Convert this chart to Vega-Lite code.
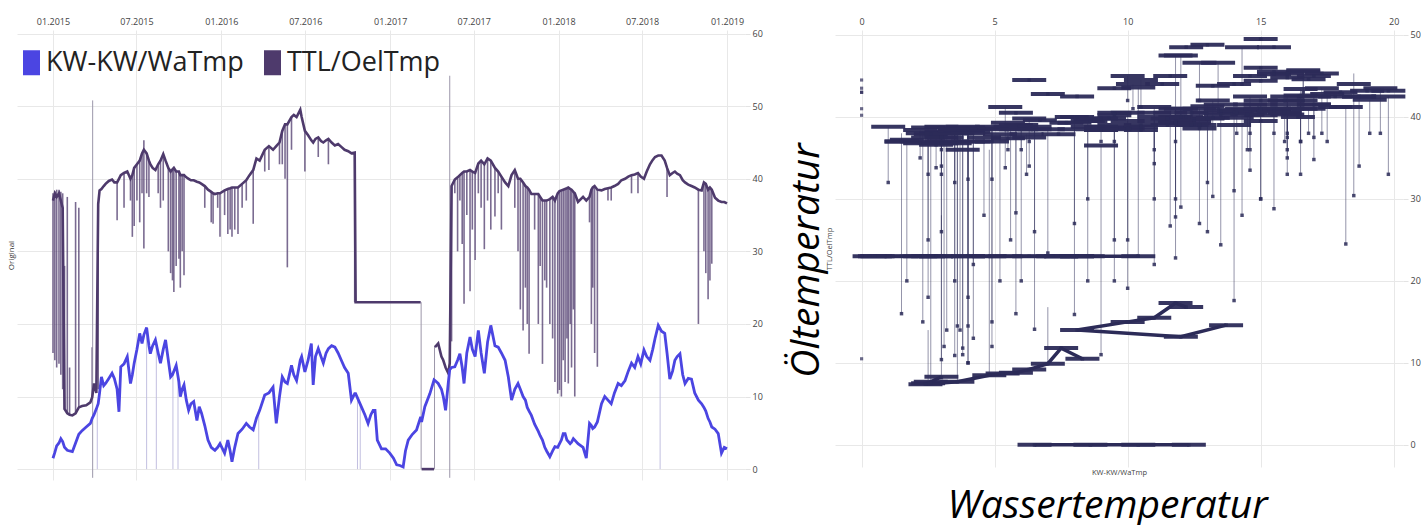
{
"$schema": "https://vega.github.io/schema/vega-lite/v6.json",
"background": "white",
"padding": {"left": 7, "top": 17, "right": 0, "bottom": 0},
"spacing": 24,
"config": {
  "view": {"stroke": null},
  "font": "Open Sans",
  "axis": {"labelFont": "Open Sans", "titleFont": "Open Sans", "gridColor": "#e8e8e8", "labelColor": "#555", "domain": false, "ticks": false, "minExtent": 0}
},
"resolve": {"scale": {"color": "independent"}, "legend": {"color": "independent"}},
"datasets": {
"main": [
{"d":"2015-01-01","wa":1.5,"oel":37,"lo":16,"hi":38,"seg":1},
{"d":"2015-01-05","wa":2.3,"oel":38,"lo":15,"hi":38.3,"seg":1},
{"d":"2015-01-09","wa":3.2,"oel":37.5,"lo":14,"hi":38.5,"seg":1},
{"d":"2015-01-14","wa":3.6,"oel":38,"lo":14.5,"hi":38.5,"seg":1},
{"d":"2015-01-18","wa":4.2,"oel":37,"lo":13,"hi":38.2,"seg":1},
{"d":"2015-01-22","wa":3.8,"oel":36,"lo":11,"hi":38,"seg":1},
{"d":"2015-01-26","wa":3.0,"oel":8.3,"lo":8.2,"hi":28,"seg":1,"run":"a"},
{"d":"2015-02-01","wa":2.6,"oel":7.7,"lo":7.6,"hi":37.5,"seg":1,"run":"a"},
{"d":"2015-02-06","wa":2.5,"oel":7.5,"lo":7.5,"hi":14,"seg":1,"run":"a"},
{"d":"2015-02-12","wa":2.4,"oel":7.4,"lo":7.4,"hi":7.4,"seg":1,"run":"a"},
{"d":"2015-02-19","wa":3.6,"oel":7.7,"lo":7.7,"hi":36.8,"seg":1,"run":"a"},
{"d":"2015-02-26","wa":4.8,"oel":8.5,"lo":8.5,"hi":36,"seg":1,"run":"a"},
{"d":"2015-03-05","wa":5.3,"oel":8.7,"lo":8.7,"hi":8.7,"seg":1,"run":"a"},
{"d":"2015-03-14","wa":5.8,"oel":8.8,"lo":8.8,"hi":8.8,"seg":1,"run":"a"},
{"d":"2015-03-23","wa":6.3,"oel":9.2,"lo":9.2,"hi":9.2,"seg":1,"run":"a"},
{"d":"2015-03-27","wa":7.0,"oel":9.9,"lo":9.9,"hi":16.8,"seg":1,"run":"a"},
{"d":"2015-03-31","wa":7.5,"oel":11.8,"lo":11.8,"hi":11.8,"seg":1,"run":"a"},
{"d":"2015-04-05","wa":8.3,"oel":10.5,"lo":10.5,"hi":10.5,"seg":1,"run":"a"},
{"d":"2015-04-09","wa":9.0,"oel":36.5,"lo":11,"hi":36.5,"seg":1},
{"d":"2015-04-12","wa":10.5,"oel":38.4,"lo":38.4,"hi":38.4,"seg":1},
{"d":"2015-04-16","wa":12.7,"oel":38.6,"lo":38.6,"hi":38.6,"seg":1},
{"d":"2015-04-21","wa":11.5,"oel":39.0,"lo":39.0,"hi":39.0,"seg":1},
{"d":"2015-04-25","wa":11.8,"oel":39.3,"lo":39.3,"hi":39.3,"seg":1},
{"d":"2015-05-02","wa":12.5,"oel":39.7,"lo":39.7,"hi":39.7,"seg":1},
{"d":"2015-05-09","wa":13.2,"oel":39.9,"lo":39.9,"hi":39.9,"seg":1},
{"d":"2015-05-14","wa":12.5,"oel":39.5,"lo":39.5,"hi":39.5,"seg":1},
{"d":"2015-05-20","wa":11.0,"oel":39.5,"lo":34.3,"hi":39.5,"seg":1},
{"d":"2015-05-24","wa":7.9,"oel":40.0,"lo":40.0,"hi":40.0,"seg":1},
{"d":"2015-05-28","wa":14.1,"oel":40.5,"lo":40.5,"hi":40.5,"seg":1},
{"d":"2015-06-04","wa":14.5,"oel":40.8,"lo":36,"hi":40.8,"seg":1},
{"d":"2015-06-11","wa":15.5,"oel":41.0,"lo":41.0,"hi":41.0,"seg":1},
{"d":"2015-06-18","wa":11.8,"oel":40.0,"lo":37,"hi":40.0,"seg":1},
{"d":"2015-06-22","wa":13.0,"oel":40.5,"lo":32,"hi":40.5,"seg":1},
{"d":"2015-06-26","wa":14.6,"oel":41.5,"lo":33.5,"hi":41.5,"seg":1},
{"d":"2015-07-02","wa":16.5,"oel":42.0,"lo":37,"hi":42.0,"seg":1},
{"d":"2015-07-08","wa":18.7,"oel":42.5,"lo":34,"hi":42.5,"seg":1},
{"d":"2015-07-13","wa":17.3,"oel":43.5,"lo":38,"hi":43.5,"seg":1},
{"d":"2015-07-17","wa":18.5,"oel":44.0,"lo":30.4,"hi":45.3,"seg":1},
{"d":"2015-07-23","wa":19.5,"oel":43.5,"lo":38,"hi":43.5,"seg":1},
{"d":"2015-07-28","wa":17.0,"oel":42.5,"lo":37.5,"hi":42.5,"seg":1},
{"d":"2015-07-31","wa":15.9,"oel":42.0,"lo":42.0,"hi":42.0,"seg":1},
{"d":"2015-08-05","wa":17.0,"oel":41.5,"lo":41.5,"hi":41.5,"seg":1},
{"d":"2015-08-11","wa":17.8,"oel":41.2,"lo":41.2,"hi":41.2,"seg":1},
{"d":"2015-08-17","wa":16.0,"oel":42.0,"lo":38,"hi":42.0,"seg":1},
{"d":"2015-08-22","wa":14.6,"oel":42.5,"lo":36,"hi":42.5,"seg":1},
{"d":"2015-08-28","wa":16.5,"oel":43.4,"lo":37,"hi":43.4,"seg":1},
{"d":"2015-09-02","wa":17.8,"oel":42.5,"lo":42.5,"hi":42.5,"seg":1},
{"d":"2015-09-08","wa":15.0,"oel":41.5,"lo":30,"hi":41.5,"seg":1},
{"d":"2015-09-13","wa":12.7,"oel":41.0,"lo":27,"hi":41.0,"seg":1},
{"d":"2015-09-17","wa":13.0,"oel":41.3,"lo":26,"hi":41.3,"seg":1},
{"d":"2015-09-20","wa":13.5,"oel":41.5,"lo":24.4,"hi":41.5,"seg":1},
{"d":"2015-09-25","wa":14.3,"oel":41.0,"lo":28,"hi":41.0,"seg":1},
{"d":"2015-10-01","wa":12.0,"oel":41.0,"lo":29,"hi":41.0,"seg":1},
{"d":"2015-10-04","wa":10.0,"oel":40.5,"lo":25,"hi":40.5,"seg":1},
{"d":"2015-10-08","wa":11.0,"oel":40.5,"lo":30,"hi":40.5,"seg":1},
{"d":"2015-10-12","wa":11.6,"oel":40.5,"lo":26.7,"hi":40.5,"seg":1},
{"d":"2015-10-17","wa":9.5,"oel":40.2,"lo":40.2,"hi":40.2,"seg":1},
{"d":"2015-10-22","wa":8.1,"oel":40.0,"lo":40.0,"hi":40.0,"seg":1},
{"d":"2015-10-27","wa":9.0,"oel":39.8,"lo":39.8,"hi":39.8,"seg":1},
{"d":"2015-11-02","wa":9.3,"oel":39.8,"lo":39.8,"hi":39.8,"seg":1},
{"d":"2015-11-09","wa":6.7,"oel":39.6,"lo":39.6,"hi":39.6,"seg":1},
{"d":"2015-11-14","wa":8.6,"oel":39.5,"lo":39.5,"hi":39.5,"seg":1},
{"d":"2015-11-19","wa":7.7,"oel":39.3,"lo":39.3,"hi":39.3,"seg":1},
{"d":"2015-11-26","wa":6.0,"oel":39.0,"lo":36,"hi":39.0,"seg":1},
{"d":"2015-12-03","wa":4.0,"oel":38.5,"lo":38.5,"hi":38.5,"seg":1},
{"d":"2015-12-10","wa":3.0,"oel":38.2,"lo":34,"hi":38.2,"seg":1},
{"d":"2015-12-14","wa":2.8,"oel":38.0,"lo":33.8,"hi":38.0,"seg":1},
{"d":"2015-12-18","wa":2.6,"oel":37.9,"lo":37.9,"hi":37.9,"seg":1},
{"d":"2015-12-24","wa":3.0,"oel":38.0,"lo":36,"hi":38.0,"seg":1},
{"d":"2015-12-29","wa":3.5,"oel":38.0,"lo":32,"hi":38.0,"seg":1},
{"d":"2016-01-08","wa":2.2,"oel":38.4,"lo":35,"hi":38.4,"seg":1},
{"d":"2016-01-15","wa":4.0,"oel":38.6,"lo":32.4,"hi":38.6,"seg":1},
{"d":"2016-01-20","wa":2.5,"oel":38.7,"lo":33,"hi":38.7,"seg":1},
{"d":"2016-01-24","wa":1.0,"oel":38.8,"lo":32,"hi":38.8,"seg":1},
{"d":"2016-01-30","wa":3.0,"oel":38.8,"lo":33,"hi":38.8,"seg":1},
{"d":"2016-02-06","wa":4.9,"oel":38.8,"lo":32.4,"hi":38.8,"seg":1},
{"d":"2016-02-15","wa":5.5,"oel":39.3,"lo":36,"hi":39.3,"seg":1},
{"d":"2016-02-24","wa":6.3,"oel":39.8,"lo":37,"hi":39.8,"seg":1},
{"d":"2016-03-02","wa":5.8,"oel":40.5,"lo":40.5,"hi":40.5,"seg":1},
{"d":"2016-03-10","wa":5.4,"oel":41.2,"lo":33.8,"hi":41.2,"seg":1},
{"d":"2016-03-17","wa":7.0,"oel":42.8,"lo":42.8,"hi":42.8,"seg":1},
{"d":"2016-03-24","wa":8.1,"oel":42.5,"lo":42.5,"hi":42.5,"seg":1},
{"d":"2016-04-04","wa":10.2,"oel":44.0,"lo":41,"hi":44.0,"seg":1},
{"d":"2016-04-13","wa":10.5,"oel":44.5,"lo":41.2,"hi":44.5,"seg":1},
{"d":"2016-04-22","wa":11.3,"oel":44.0,"lo":44.0,"hi":44.0,"seg":1},
{"d":"2016-04-29","wa":6.3,"oel":44.5,"lo":44.5,"hi":44.5,"seg":1},
{"d":"2016-05-06","wa":10.0,"oel":45.0,"lo":42,"hi":45.0,"seg":1},
{"d":"2016-05-12","wa":12.7,"oel":46.6,"lo":42,"hi":46.6,"seg":1},
{"d":"2016-05-18","wa":12.0,"oel":47.5,"lo":40,"hi":47.5,"seg":1},
{"d":"2016-05-23","wa":11.8,"oel":47.5,"lo":27.8,"hi":47.5,"seg":1},
{"d":"2016-06-01","wa":14.3,"oel":48.5,"lo":44,"hi":48.5,"seg":1},
{"d":"2016-06-06","wa":13.0,"oel":48.8,"lo":48.8,"hi":48.8,"seg":1},
{"d":"2016-06-12","wa":12.2,"oel":48.5,"lo":48.5,"hi":48.5,"seg":1},
{"d":"2016-06-20","wa":15.0,"oel":49.5,"lo":49.5,"hi":49.5,"seg":1},
{"d":"2016-06-23","wa":15.5,"oel":48.5,"lo":48.5,"hi":48.5,"seg":1},
{"d":"2016-06-30","wa":13.4,"oel":46.6,"lo":41,"hi":46.6,"seg":1},
{"d":"2016-07-07","wa":15.0,"oel":46.0,"lo":46.0,"hi":46.0,"seg":1},
{"d":"2016-07-14","wa":17.3,"oel":45.3,"lo":45.3,"hi":45.3,"seg":1},
{"d":"2016-07-18","wa":11.6,"oel":45.0,"lo":45.0,"hi":45.0,"seg":1},
{"d":"2016-07-23","wa":15.5,"oel":45.5,"lo":45.5,"hi":45.5,"seg":1},
{"d":"2016-07-29","wa":16.6,"oel":45.7,"lo":43,"hi":45.7,"seg":1},
{"d":"2016-08-04","wa":15.5,"oel":45.2,"lo":45.2,"hi":45.2,"seg":1},
{"d":"2016-08-09","wa":14.6,"oel":45.0,"lo":45.0,"hi":45.0,"seg":1},
{"d":"2016-08-15","wa":16.0,"oel":45.3,"lo":45.3,"hi":45.3,"seg":1},
{"d":"2016-08-20","wa":16.6,"oel":45.5,"lo":42,"hi":45.5,"seg":1},
{"d":"2016-08-27","wa":17.0,"oel":45.0,"lo":45.0,"hi":45.0,"seg":1},
{"d":"2016-09-03","wa":16.8,"oel":44.6,"lo":44.6,"hi":44.6,"seg":1},
{"d":"2016-09-10","wa":16.0,"oel":44.8,"lo":44.8,"hi":44.8,"seg":1},
{"d":"2016-09-17","wa":15.0,"oel":44.4,"lo":44.4,"hi":44.4,"seg":1},
{"d":"2016-09-24","wa":14.0,"oel":44.0,"lo":44.0,"hi":44.0,"seg":1},
{"d":"2016-10-02","wa":13.2,"oel":43.8,"lo":43.8,"hi":43.8,"seg":1},
{"d":"2016-10-09","wa":9.5,"oel":43.5,"lo":43.5,"hi":43.5,"seg":1},
{"d":"2016-10-16","wa":10.4,"oel":43.6,"lo":23.0,"hi":43.6,"seg":1},
{"d":"2016-10-18","wa":10.4,"oel":23.0,"lo":23.0,"hi":23.0,"seg":1,"run":"b"},
{"d":"2016-10-31","wa":8.5,"oel":23,"lo":23,"hi":23,"seg":1,"run":"b"},
{"d":"2016-11-07","wa":7.5,"oel":23,"lo":23,"hi":23,"seg":1,"run":"b"},
{"d":"2016-11-14","wa":6.3,"oel":23,"lo":23,"hi":23,"seg":1,"run":"b"},
{"d":"2016-11-20","wa":7.5,"oel":23,"lo":23,"hi":23,"seg":1,"run":"b"},
{"d":"2016-11-25","wa":8.1,"oel":23,"lo":23,"hi":23,"seg":1,"run":"b"},
{"d":"2016-11-29","wa":8.1,"oel":23,"lo":23,"hi":23,"seg":1,"run":"b"},
{"d":"2016-12-04","wa":4.0,"oel":23,"lo":23,"hi":23,"seg":1,"run":"b"},
{"d":"2016-12-13","wa":2.8,"oel":23,"lo":23,"hi":23,"seg":1,"run":"b"},
{"d":"2016-12-22","wa":2.8,"oel":23,"lo":23,"hi":23,"seg":1,"run":"b"},
{"d":"2016-12-31","wa":2.2,"oel":23,"lo":23,"hi":23,"seg":1,"run":"b"},
{"d":"2017-01-08","wa":1.5,"oel":23,"lo":23,"hi":23,"seg":1,"run":"b"},
{"d":"2017-01-15","wa":0.6,"oel":23,"lo":23,"hi":23,"seg":1,"run":"b"},
{"d":"2017-01-22","wa":0.5,"oel":23,"lo":23,"hi":23,"seg":1,"run":"b"},
{"d":"2017-01-29","wa":0.3,"oel":23,"lo":23,"hi":23,"seg":1,"run":"b"},
{"d":"2017-02-03","wa":2.5,"oel":23,"lo":23,"hi":23,"seg":1,"run":"b"},
{"d":"2017-02-09","wa":4.0,"oel":23,"lo":23,"hi":23,"seg":1,"run":"b"},
{"d":"2017-02-18","wa":4.8,"oel":23,"lo":23,"hi":23,"seg":1,"run":"b"},
{"d":"2017-02-27","wa":5.4,"oel":23,"lo":23,"hi":23,"seg":1,"run":"b"},
{"d":"2017-03-08","wa":7.2,"oel":23,"lo":23,"hi":23,"seg":1,"run":"b"},
{"d":"2017-03-10","wa":6.5,"oel":0,"lo":0,"hi":0,"seg":2,"run":"c"},
{"d":"2017-03-17","wa":8.6,"oel":0,"lo":0,"hi":0,"seg":2,"run":"c"},
{"d":"2017-03-28","wa":10.4,"oel":0,"lo":0,"hi":0,"seg":2,"run":"c"},
{"d":"2017-04-06","wa":12.3,"oel":0,"lo":0,"hi":0,"seg":2,"run":"c"},
{"d":"2017-04-08","wa":12.2,"oel":16.8,"lo":16.8,"hi":16.8,"seg":3,"run":"d"},
{"d":"2017-04-15","wa":11.8,"oel":17.3,"lo":17.3,"hi":17.3,"seg":3,"run":"d"},
{"d":"2017-04-22","wa":11.0,"oel":15.5,"lo":15.5,"hi":15.5,"seg":3,"run":"d"},
{"d":"2017-04-26","wa":10.0,"oel":15.0,"lo":15.0,"hi":15.0,"seg":3,"run":"d"},
{"d":"2017-05-01","wa":8.1,"oel":14.0,"lo":14.0,"hi":14.0,"seg":3,"run":"d"},
{"d":"2017-05-07","wa":12.0,"oel":13.2,"lo":13.2,"hi":13.2,"seg":3,"run":"d"},
{"d":"2017-05-10","wa":13.7,"oel":14.6,"lo":14.6,"hi":14.6,"seg":3,"run":"d"},
{"d":"2017-05-14","wa":14.0,"oel":39.0,"lo":17.6,"hi":39.0,"seg":3},
{"d":"2017-05-21","wa":14.1,"oel":39.9,"lo":38,"hi":39.9,"seg":3},
{"d":"2017-05-27","wa":15.0,"oel":40.2,"lo":30,"hi":40.2,"seg":3},
{"d":"2017-06-01","wa":15.9,"oel":40.5,"lo":37,"hi":40.5,"seg":3},
{"d":"2017-06-06","wa":14.0,"oel":40.8,"lo":31,"hi":40.8,"seg":3},
{"d":"2017-06-10","wa":11.8,"oel":41.0,"lo":22.8,"hi":41.0,"seg":3},
{"d":"2017-06-16","wa":16.0,"oel":41.0,"lo":35,"hi":41.0,"seg":3},
{"d":"2017-06-23","wa":18.2,"oel":41.2,"lo":24.5,"hi":41.2,"seg":3},
{"d":"2017-06-28","wa":16.5,"oel":41.0,"lo":33,"hi":41.0,"seg":3},
{"d":"2017-07-04","wa":15.5,"oel":40.8,"lo":28.8,"hi":40.8,"seg":3},
{"d":"2017-07-11","wa":19.1,"oel":42.1,"lo":38,"hi":42.1,"seg":3},
{"d":"2017-07-17","wa":16.0,"oel":42.5,"lo":36,"hi":42.5,"seg":3},
{"d":"2017-07-24","wa":13.2,"oel":42.0,"lo":30.3,"hi":42.0,"seg":3},
{"d":"2017-07-31","wa":17.5,"oel":42.8,"lo":37,"hi":42.8,"seg":3},
{"d":"2017-08-07","wa":19.8,"oel":42.5,"lo":33,"hi":42.5,"seg":3},
{"d":"2017-08-16","wa":17.0,"oel":41.5,"lo":34.8,"hi":41.5,"seg":3},
{"d":"2017-08-23","wa":16.8,"oel":41.0,"lo":38,"hi":41.0,"seg":3},
{"d":"2017-08-30","wa":16.0,"oel":40.3,"lo":33,"hi":40.3,"seg":3},
{"d":"2017-09-07","wa":15.0,"oel":39.5,"lo":39.5,"hi":39.5,"seg":3},
{"d":"2017-09-14","wa":12.7,"oel":39.0,"lo":39.0,"hi":39.0,"seg":3},
{"d":"2017-09-21","wa":9.5,"oel":40.5,"lo":40.5,"hi":40.5,"seg":3},
{"d":"2017-09-28","wa":11.0,"oel":41.2,"lo":36,"hi":41.2,"seg":3},
{"d":"2017-10-05","wa":11.8,"oel":40.0,"lo":30,"hi":40.0,"seg":3},
{"d":"2017-10-10","wa":11.0,"oel":40.0,"lo":22,"hi":40.0,"seg":3},
{"d":"2017-10-16","wa":10.0,"oel":39.5,"lo":19.1,"hi":39.5,"seg":3},
{"d":"2017-10-21","wa":9.5,"oel":39.0,"lo":25,"hi":39.0,"seg":3},
{"d":"2017-10-25","wa":8.5,"oel":38.8,"lo":20,"hi":38.8,"seg":3},
{"d":"2017-10-29","wa":8.0,"oel":38.5,"lo":15.9,"hi":38.5,"seg":3},
{"d":"2017-11-03","wa":7.4,"oel":37.9,"lo":37.9,"hi":37.9,"seg":3},
{"d":"2017-11-10","wa":6.2,"oel":37.9,"lo":33,"hi":37.9,"seg":3},
{"d":"2017-11-18","wa":5.2,"oel":37.9,"lo":20,"hi":37.9,"seg":3},
{"d":"2017-11-22","wa":4.6,"oel":37.5,"lo":28,"hi":37.5,"seg":3},
{"d":"2017-11-27","wa":4.0,"oel":37.0,"lo":14.5,"hi":37.0,"seg":3},
{"d":"2017-12-02","wa":3.0,"oel":37.0,"lo":26,"hi":37.0,"seg":3},
{"d":"2017-12-06","wa":2.5,"oel":37.0,"lo":25,"hi":37.0,"seg":3},
{"d":"2017-12-13","wa":1.7,"oel":37.2,"lo":20,"hi":37.2,"seg":3},
{"d":"2017-12-19","wa":2.5,"oel":37.5,"lo":18,"hi":37.5,"seg":3},
{"d":"2017-12-24","wa":3.1,"oel":37.0,"lo":12,"hi":37.0,"seg":3},
{"d":"2017-12-30","wa":3.0,"oel":38.0,"lo":10.4,"hi":38.0,"seg":3},
{"d":"2018-01-03","wa":3.5,"oel":38.3,"lo":10.9,"hi":38.3,"seg":3},
{"d":"2018-01-07","wa":4.0,"oel":38.4,"lo":10,"hi":38.4,"seg":3},
{"d":"2018-01-11","wa":4.9,"oel":38.5,"lo":15,"hi":38.5,"seg":3},
{"d":"2018-01-15","wa":4.9,"oel":38.6,"lo":12,"hi":38.6,"seg":3},
{"d":"2018-01-19","wa":4.0,"oel":38.7,"lo":18,"hi":38.7,"seg":3},
{"d":"2018-01-22","wa":3.8,"oel":38.8,"lo":11.8,"hi":38.8,"seg":3},
{"d":"2018-01-26","wa":3.5,"oel":38.6,"lo":20,"hi":38.6,"seg":3},
{"d":"2018-01-29","wa":3.7,"oel":38.5,"lo":14,"hi":38.5,"seg":3},
{"d":"2018-02-02","wa":4.2,"oel":38.2,"lo":22,"hi":38.2,"seg":3},
{"d":"2018-02-05","wa":4.0,"oel":38.0,"lo":10,"hi":38.0,"seg":3},
{"d":"2018-02-12","wa":3.5,"oel":36.8,"lo":36.8,"hi":36.8,"seg":3},
{"d":"2018-02-23","wa":3.0,"oel":37.5,"lo":37.5,"hi":37.5,"seg":3},
{"d":"2018-03-02","wa":1.5,"oel":37.0,"lo":37.0,"hi":37.0,"seg":3},
{"d":"2018-03-09","wa":6.3,"oel":37.5,"lo":34,"hi":37.5,"seg":3},
{"d":"2018-03-13","wa":6.0,"oel":38.5,"lo":20,"hi":38.5,"seg":3},
{"d":"2018-03-16","wa":5.6,"oel":38.8,"lo":25,"hi":38.8,"seg":3},
{"d":"2018-03-20","wa":5.8,"oel":39.0,"lo":16,"hi":39.0,"seg":3},
{"d":"2018-03-26","wa":6.5,"oel":38.5,"lo":14.1,"hi":38.5,"seg":3},
{"d":"2018-04-04","wa":9.0,"oel":38.4,"lo":38.4,"hi":38.4,"seg":3},
{"d":"2018-04-11","wa":10.0,"oel":38.6,"lo":38.6,"hi":38.6,"seg":3},
{"d":"2018-04-18","wa":9.5,"oel":38.7,"lo":37,"hi":38.7,"seg":3},
{"d":"2018-04-25","wa":9.0,"oel":38.8,"lo":37,"hi":38.8,"seg":3},
{"d":"2018-05-02","wa":10.5,"oel":39.0,"lo":39.0,"hi":39.0,"seg":3},
{"d":"2018-05-10","wa":11.8,"oel":39.3,"lo":39.3,"hi":39.3,"seg":3},
{"d":"2018-05-17","wa":11.5,"oel":39.8,"lo":39.8,"hi":39.8,"seg":3},
{"d":"2018-05-25","wa":12.2,"oel":40.0,"lo":40.0,"hi":40.0,"seg":3},
{"d":"2018-06-01","wa":13.5,"oel":40.3,"lo":40.3,"hi":40.3,"seg":3},
{"d":"2018-06-08","wa":14.6,"oel":40.5,"lo":38,"hi":40.5,"seg":3},
{"d":"2018-06-15","wa":14.0,"oel":40.6,"lo":40.6,"hi":40.6,"seg":3},
{"d":"2018-06-22","wa":15.5,"oel":40.8,"lo":38,"hi":40.8,"seg":3},
{"d":"2018-06-28","wa":14.5,"oel":40.3,"lo":40.3,"hi":40.3,"seg":3},
{"d":"2018-07-05","wa":16.4,"oel":40.0,"lo":40.0,"hi":40.0,"seg":3},
{"d":"2018-07-11","wa":15.5,"oel":41.0,"lo":41.0,"hi":41.0,"seg":3},
{"d":"2018-07-18","wa":15.0,"oel":42.0,"lo":42.0,"hi":42.0,"seg":3},
{"d":"2018-07-24","wa":16.5,"oel":42.6,"lo":42.6,"hi":42.6,"seg":3},
{"d":"2018-07-29","wa":18.0,"oel":43.0,"lo":43.0,"hi":43.0,"seg":3},
{"d":"2018-08-05","wa":19.8,"oel":43.2,"lo":43.2,"hi":43.2,"seg":3},
{"d":"2018-08-12","wa":19.0,"oel":43.2,"lo":43.2,"hi":43.2,"seg":3},
{"d":"2018-08-19","wa":18.7,"oel":42.5,"lo":42.5,"hi":42.5,"seg":3},
{"d":"2018-08-24","wa":16.0,"oel":41.5,"lo":37.5,"hi":41.5,"seg":3},
{"d":"2018-08-30","wa":12.4,"oel":40.5,"lo":40.5,"hi":40.5,"seg":3},
{"d":"2018-09-05","wa":13.5,"oel":40.8,"lo":40.8,"hi":40.8,"seg":3},
{"d":"2018-09-10","wa":15.0,"oel":41.0,"lo":41.0,"hi":41.0,"seg":3},
{"d":"2018-09-15","wa":15.5,"oel":40.7,"lo":40.7,"hi":40.7,"seg":3},
{"d":"2018-09-21","wa":15.9,"oel":40.5,"lo":40.5,"hi":40.5,"seg":3},
{"d":"2018-09-27","wa":13.0,"oel":39.8,"lo":39.8,"hi":39.8,"seg":3},
{"d":"2018-10-02","wa":11.8,"oel":39.5,"lo":39.5,"hi":39.5,"seg":3},
{"d":"2018-10-09","wa":12.5,"oel":39.2,"lo":39.2,"hi":39.2,"seg":3},
{"d":"2018-10-16","wa":12.4,"oel":39.0,"lo":39.0,"hi":39.0,"seg":3},
{"d":"2018-10-23","wa":10.5,"oel":38.8,"lo":38.8,"hi":38.8,"seg":3},
{"d":"2018-10-31","wa":9.5,"oel":38.5,"lo":20,"hi":38.5,"seg":3},
{"d":"2018-11-07","wa":9.0,"oel":38.4,"lo":38.4,"hi":38.4,"seg":3},
{"d":"2018-11-12","wa":8.5,"oel":39.5,"lo":30,"hi":39.5,"seg":3},
{"d":"2018-11-16","wa":8.0,"oel":39.3,"lo":27,"hi":39.3,"seg":3},
{"d":"2018-11-21","wa":7.0,"oel":38.5,"lo":23.4,"hi":38.5,"seg":3},
{"d":"2018-11-25","wa":6.5,"oel":38.8,"lo":26,"hi":38.8,"seg":3},
{"d":"2018-11-29","wa":5.8,"oel":38.5,"lo":28.3,"hi":38.5,"seg":3},
{"d":"2018-12-06","wa":5.5,"oel":37.4,"lo":37.4,"hi":37.4,"seg":3},
{"d":"2018-12-13","wa":4.9,"oel":37.0,"lo":37.0,"hi":37.0,"seg":3},
{"d":"2018-12-20","wa":2.2,"oel":36.8,"lo":36.8,"hi":36.8,"seg":3},
{"d":"2018-12-26","wa":3.0,"oel":36.8,"lo":36.8,"hi":36.8,"seg":3},
{"d":"2019-01-01","wa":2.8,"oel":36.6,"lo":36.6,"hi":36.6,"seg":3}
],
"drops": [
{"d":"2015-03-28","top":50.8,"bot":-1.2,"kind":"oel","oel":9.9},
{"d":"2015-04-07","top":8.5,"bot":0,"kind":"wa","oel":10.5},
{"d":"2015-07-23","top":19.5,"bot":0,"kind":"wa","oel":43.5},
{"d":"2015-08-13","top":17,"bot":0,"kind":"wa","oel":44.5},
{"d":"2015-09-18","top":13.5,"bot":0,"kind":"wa","oel":41},
{"d":"2015-09-29","top":13,"bot":0,"kind":"wa","oel":40.2},
{"d":"2016-03-22","top":8,"bot":0,"kind":"wa","oel":43},
{"d":"2016-10-22","top":10,"bot":0,"kind":"wa","oel":23},
{"d":"2016-10-28","top":9,"bot":0,"kind":"wa","oel":23},
{"d":"2017-03-09","top":23,"bot":0,"kind":"oel","oel":23},
{"d":"2017-04-07","top":17,"bot":0,"kind":"oel","oel":17},
{"d":"2017-05-10","top":54.2,"bot":-1.2,"kind":"oel","oel":14.6},
{"d":"2018-08-09","top":19.5,"bot":0,"kind":"wa","oel":43}
],
"legend": [{"s":"KW-KW/WaTmp"},{"s":"TTL/OelTmp"}]
},
"hconcat": [
{
  "width": 728,
  "height": 450,
  "resolve": {"axis": {"x": "independent", "y": "independent"}},
  "layer": [
    {
      "data": {"name": "legend"},
      "mark": {"type": "point", "filled": true, "opacity": 0, "shape": "M-0.68,-1V1H0.68V-1Z"},
      "encoding": {
        "color": {"field": "s", "type": "nominal",
          "scale": {"domain": ["KW-KW/WaTmp", "TTL/OelTmp"], "range": ["#4b45e2", "#4e3a6c"]},
          "legend": {"title": null, "orient": "none", "legendX": 1, "legendY": 19, "direction": "horizontal",
            "labelFontSize": 27, "labelFont": "Open Sans", "labelColor": "#222", "symbolSize": 625,
            "symbolOpacity": 1, "symbolStrokeWidth": 0, "labelOffset": 1, "columnPadding": 15, "padding": 0, "labelLimit": 400}}
      }
    },
    {
      "data": {"name": "main"},
      "mark": {"type": "rule", "strokeWidth": 1.6, "opacity": 0.75, "color": "#4e3a6c"},
      "encoding": {
        "x": {"field": "d", "type": "temporal",
          "scale": {"domain": [{"year": 2014, "month": 10, "date": 15}, {"year": 2019, "month": 2, "date": 9}]},
          "axis": {"orient": "top", "format": "%m.%Y", "tickCount": {"interval": "month", "step": 6}, "grid": true,
            "title": null, "labelFontSize": 9, "labelPadding": 4, "labelColor": "#444"}},
        "y": {"field": "lo", "type": "quantitative", "scale": {"domain": [-1.5, 60.5], "nice": false, "zero": false},
          "axis": {"orient": "left", "title": "Original", "labels": false, "grid": false, "titleFontSize": 8,
            "titlePadding": 2, "titleFontWeight": "normal", "titleColor": "#333"}},
        "y2": {"field": "hi"}
      }
    },
    {
      "data": {"name": "drops"},
      "mark": {"type": "rule", "strokeWidth": 1},
      "encoding": {
        "x": {"field": "d", "type": "temporal", "axis": null,
          "scale": {"domain": [{"year": 2014, "month": 10, "date": 15}, {"year": 2019, "month": 2, "date": 9}]}},
        "y": {"field": "top", "type": "quantitative", "axis": null, "scale": {"domain": [-1.5, 60.5], "nice": false, "zero": false}},
        "y2": {"field": "bot"},
        "stroke": {"field": "kind", "type": "nominal", "scale": {"domain": ["wa", "oel"], "range": ["#c2bfe0", "#9c97aa"]}, "legend": null}
      }
    },
    {
      "data": {"name": "main"},
      "mark": {"type": "line", "strokeWidth": 2.6, "color": "#4e3a6c"},
      "encoding": {
        "x": {"field": "d", "type": "temporal", "axis": null,
          "scale": {"domain": [{"year": 2014, "month": 10, "date": 15}, {"year": 2019, "month": 2, "date": 9}]}},
        "y": {"field": "oel", "type": "quantitative", "scale": {"domain": [-1.5, 60.5], "nice": false, "zero": false},
          "axis": {"orient": "right", "values": [0, 10, 20, 30, 40, 50, 60], "grid": true, "title": null, "labelFontSize": 9,
            "ticks": true, "tickSize": 5, "tickColor": "#e3e3e3", "labelPadding": 2, "labelColor": "#444"}},
        "detail": {"field": "seg", "type": "nominal"}
      }
    },
    {
      "data": {"name": "main"},
      "mark": {"type": "line", "strokeWidth": 2.8, "color": "#4b45e2"},
      "encoding": {
        "x": {"field": "d", "type": "temporal", "axis": null,
          "scale": {"domain": [{"year": 2014, "month": 10, "date": 15}, {"year": 2019, "month": 2, "date": 9}]}},
        "y": {"field": "wa", "type": "quantitative", "axis": null, "scale": {"domain": [-1.5, 60.5], "nice": false, "zero": false}}
      }
    }
  ]
},
{
  "width": 568,
  "height": 437,
  "resolve": {"axis": {"x": "independent", "y": "independent"}},
  "layer": [
    {
      "data": {"name": "main"},
      "mark": {"type": "rule", "strokeWidth": 1, "opacity": 0.5, "color": "#2c2b58"},
      "encoding": {
        "x": {"field": "wa", "type": "quantitative", "scale": {"domain": [-1, 20.35], "nice": false, "zero": false},
          "axis": {"orient": "top", "values": [0, 5, 10, 15, 20], "grid": true, "title": null, "labelFontSize": 9, "labelPadding": 4, "labelColor": "#444"}},
        "y": {"field": "lo", "type": "quantitative", "scale": {"domain": [-2.7, 50.6], "nice": false, "zero": false},
          "axis": {"orient": "right", "values": [0, 10, 20, 30, 40, 50], "grid": true, "title": null, "labelFontSize": 9,
            "ticks": true, "tickSize": 5, "tickColor": "#e3e3e3", "labelPadding": 2, "labelColor": "#444"}},
        "y2": {"field": "hi"}
      }
    },
    {
      "data": {"name": "main"},
      "transform": [{"filter": "datum.run"}],
      "mark": {"type": "line", "strokeWidth": 3.5, "color": "#2c2b58"},
      "encoding": {
        "x": {"field": "wa", "type": "quantitative", "axis": null, "scale": {"domain": [-1, 20.35], "nice": false, "zero": false}},
        "y": {"field": "oel", "type": "quantitative", "axis": null, "scale": {"domain": [-2.7, 50.6], "nice": false, "zero": false}},
        "order": {"field": "d", "type": "temporal"},
        "detail": {"field": "run", "type": "nominal"}
      }
    },
    {
      "data": {"name": "main"},
      "mark": {"type": "tick", "orient": "horizontal", "size": 34, "thickness": 4, "opacity": 0.95, "color": "#2c2b58"},
      "encoding": {
        "x": {"field": "wa", "type": "quantitative", "axis": null, "scale": {"domain": [-1, 20.35], "nice": false, "zero": false}},
        "y": {"field": "oel", "type": "quantitative", "axis": null, "scale": {"domain": [-2.7, 50.6], "nice": false, "zero": false}}
      }
    },
    {
      "data": {"name": "main"},
      "mark": {"type": "square", "size": 12, "opacity": 0.85, "color": "#2c2b58"},
      "encoding": {
        "x": {"field": "wa", "type": "quantitative", "axis": null, "scale": {"domain": [-1, 20.35], "nice": false, "zero": false}},
        "y": {"field": "lo", "type": "quantitative", "axis": null, "scale": {"domain": [-2.7, 50.6], "nice": false, "zero": false}}
      }
    },
    {
      "data": {"name": "drops"},
      "transform": [{"filter": "datum.kind == 'wa'"}],
      "mark": {"type": "square", "size": 10, "color": "#2c2b58"},
      "encoding": {
        "x": {"datum": 0, "type": "quantitative", "axis": null, "scale": {"domain": [-1, 20.35], "nice": false, "zero": false}},
        "y": {"field": "oel", "type": "quantitative", "axis": null, "scale": {"domain": [-2.7, 50.6], "nice": false, "zero": false}}
      }
    },
    {
      "data": {"name": "main"},
      "mark": {"type": "point", "opacity": 0},
      "encoding": {
        "x": {"field": "wa", "type": "quantitative", "scale": {"domain": [-1, 20.35], "nice": false, "zero": false},
          "axis": {"orient": "bottom", "title": "KW-KW/WaTmp", "labels": false, "grid": false, "titleFontSize": 7.5,
            "titlePadding": 1, "titleFontWeight": "normal", "titleColor": "#444"}},
        "y": {"field": "oel", "type": "quantitative", "scale": {"domain": [-2.7, 50.6], "nice": false, "zero": false},
          "axis": {"orient": "left", "title": "TTL/OelTmp", "labels": false, "grid": false, "titleFontSize": 7.5,
            "titlePadding": 2, "titleFontWeight": "normal", "titleColor": "#444"}}
      }
    },
    {
      "data": {"name": "main"},
      "mark": {"type": "point", "opacity": 0},
      "encoding": {
        "x": {"field": "wa", "type": "quantitative", "scale": {"domain": [-1, 20.35], "nice": false, "zero": false},
          "axis": {"orient": "bottom", "offset": 19, "title": "Wassertemperatur", "titleX": 272, "labels": false, "grid": false, "titleFontSize": 39,
            "titlePadding": 0, "titleFontWeight": "normal", "titleFontStyle": "italic", "titleColor": "#000"}},
        "y": {"field": "oel", "type": "quantitative", "scale": {"domain": [-2.7, 50.6], "nice": false, "zero": false},
          "axis": {"orient": "left", "offset": 9, "title": "Öltemperatur", "titleY": 230, "labels": false, "grid": false, "titleFontSize": 39,
            "titlePadding": 0, "titleFontWeight": "normal", "titleFontStyle": "italic", "titleColor": "#000"}}
      }
    }
  ]
}
]
}
